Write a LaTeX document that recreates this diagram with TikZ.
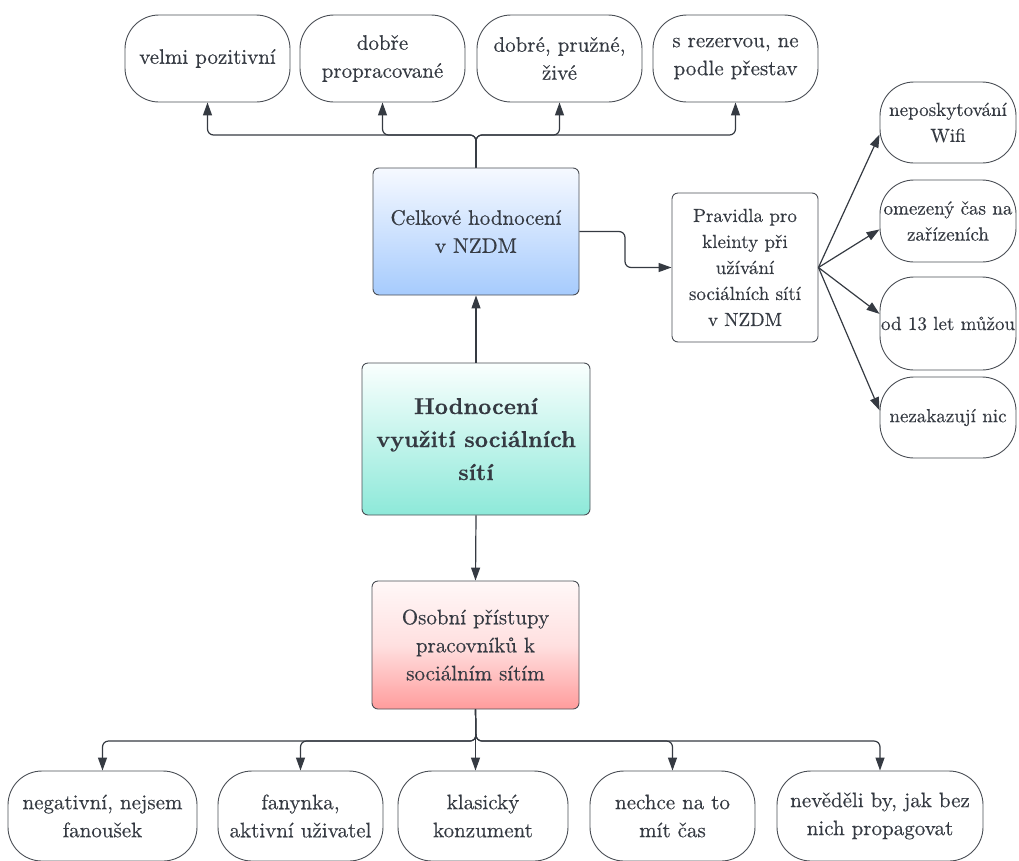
\documentclass[tikz,border=0pt]{standalone}
\usepackage{fontspec}
\setmainfont{lmroman10-regular}[Extension=.otf, FakeBold=0.35,
  BoldFont=lmroman10-bold, BoldFeatures={FakeBold=0.35}]
\usetikzlibrary{arrows.meta}
\definecolor{ink}{HTML}{353A42}
\definecolor{edge}{HTML}{4A4E55}
\definecolor{blueTop}{HTML}{F6F9FF}
\definecolor{blueBot}{HTML}{A6CBFD}
\definecolor{tealTop}{HTML}{FAFFFE}
\definecolor{tealBot}{HTML}{8DE9D9}
\definecolor{redTop}{HTML}{FFF8F8}
\definecolor{redMid}{HTML}{FFE0E0}
\definecolor{redBot}{HTML}{FF9C9C}
\tikzset{
  txt/.style={text=ink, align=center, inner sep=0pt,
    font=\rmfamily\fontsize{21}{28}\selectfont},
  side/.style={font=\rmfamily\fontsize{19}{26}\selectfont},
  pill/.style={txt, draw=edge, line width=0.9pt, rounded corners=34pt,
    minimum height=#1},
  pill/.default=87pt,
  card/.style={txt, draw=edge, line width=0.9pt, rounded corners=6pt},
  conn/.style={draw=ink, line width=1.2pt, rounded corners=6pt},
  tip/.style={-{Triangle[length=13pt,width=9pt]}}
}
\begin{document}
\begin{tikzpicture}[x=1pt,y=-1pt]
\useasboundingbox (0,0) rectangle (1019,860);
\clip (0,0) rectangle (1019,860);

% upper row of ratings
\node[pill, minimum width=165pt] (t1) at (207.5,58.5) {velmi pozitivní};
\node[pill, minimum width=165pt] (t2) at (382.5,58.5) {dobře\\propracované};
\node[pill, minimum width=165pt] (t3) at (559.5,58.5) {dobré, pružné,\\živé};
\node[pill, minimum width=165pt] (t4) at (735.5,58.5) {s rezervou, ne\\podle přestav};

% central column
\node[card, minimum width=206pt, minimum height=127pt,
      top color=blueTop, bottom color=blueBot] (cel) at (476,231.5)
      {Celkové hodnocení\\v NZDM};
\node[card, minimum width=228pt, minimum height=152pt,
      top color=tealTop, bottom color=tealBot,
      font=\rmfamily\fontsize{23}{33}\selectfont\bfseries] (hod) at (476,439)
      {Hodnocení\\využití sociálních\\sítí};
\node[card, minimum width=207pt, minimum height=128pt,
      top color=redTop, bottom color=redBot, middle color=redMid] (oso) at (475.5,645)
      {Osobní přístupy\\pracovníků k\\sociálním sítím};

% rules for clients
\node[card, fill=white, minimum width=146pt, minimum height=149pt,
      font=\rmfamily\fontsize{19}{26}\selectfont] (prav) at (745,267.5)
      {Pravidla pro\\kleinty při\\užívání\\sociálních sítí\\v NZDM};
\node[pill=81pt, minimum width=136pt, side] (r1) at (948,122.5) {neposkytování\\Wifi};
\node[pill=82pt, minimum width=136pt, side] (r2) at (948,221) {omezený čas na\\zařízeních};
\node[pill=93pt, minimum width=136pt, side] (r3) at (948,323.5) {od 13 let můžou};
\node[pill=81pt, minimum width=136pt, side] (r4) at (948,417.5) {nezakazují nic};

% lower row of personal attitudes
\node[pill=90pt, minimum width=189pt] (b1) at (102.5,816) {negativní, nejsem\\fanoušek};
\node[pill=90pt, minimum width=165pt] (b2) at (300.5,816) {fanynka,\\aktivní uživatel};
\node[pill=90pt, minimum width=170pt] (b3) at (483,816) {klasický\\konzument};
\node[pill=90pt, minimum width=165pt] (b4) at (672.5,816) {nechce na to\\mít čas};
\node[pill=90pt, minimum width=206pt] (b5) at (880,816) {nevěděli by, jak bez\\nich propagovat};

% bus junctions and elbow
\coordinate (tbus) at (476,135);
\coordinate (bbus) at (476,741);
\coordinate (elbow) at (625,250);

% connectors
\draw[conn, tip] (cel.north) -- (tbus) -| (t1.south);
\draw[conn, tip] (cel.north) -- (tbus) -| (t2.south);
\draw[conn, tip] (cel.north) -- (tbus) -| (t3.south);
\draw[conn, tip] (cel.north) -- (tbus) -| (t4.south);

\draw[conn, tip] (hod.north) -- (cel.south);
\draw[conn, tip] (hod.south) -- (oso.north);

\draw[conn, tip] (cel.east) -- (cel.east -| elbow) |- (prav.west);

\draw[conn, tip, rounded corners=0pt] (prav.east) -- (r1.190);
\draw[conn, tip, rounded corners=0pt] (prav.east) -- (r2.187);
\draw[conn, tip, rounded corners=0pt] (prav.east) -- (r3.172);
\draw[conn, tip, rounded corners=0pt] (prav.east) -- (r4.174);

\draw[conn, tip] (oso.south) -- (bbus) -| (b1.north);
\draw[conn, tip] (oso.south) -- (bbus) -| (b2.north);
\draw[conn, tip] (oso.south) -- (oso.south |- b3.north);
\draw[conn, tip] (oso.south) -- (bbus) -| (b4.north);
\draw[conn, tip] (oso.south) -- (bbus) -| (b5.north);
\end{tikzpicture}
\end{document}
